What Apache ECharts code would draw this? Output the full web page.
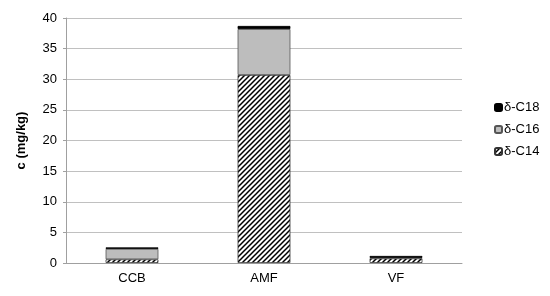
<!DOCTYPE html>
<html><head><meta charset="utf-8">
<script src="https://cdn.jsdelivr.net/npm/echarts@6/dist/echarts.min.js"></script>
<style>html,body{margin:0;padding:0;background:#fff}#c{width:550px;height:296px}</style>
</head><body><div id="c"></div>
<script>
const categories = ['CCB', 'AMF', 'VF'];
const c14 = [0.6, 30.7, 0.75];
const c16 = [1.7, 7.5, 0.1];
const c18 = [0.25, 0.5, 0.3];
const yTicks = [0, 5, 10, 15, 20, 25, 30, 35, 40];

function hatch() {
  const s = 5;
  const cv = document.createElement('canvas');
  cv.width = s; cv.height = s;
  const g = cv.getContext('2d');
  g.fillStyle = '#fff'; g.fillRect(0, 0, s, s);
  g.strokeStyle = '#000'; g.lineWidth = 1.5;
  g.beginPath();
  g.moveTo(-1, s + 1); g.lineTo(s + 1, -1);
  g.moveTo(-1, 1); g.lineTo(1, -1);
  g.moveTo(s - 1, s + 1); g.lineTo(s + 1, s - 1);
  g.stroke();
  return cv;
}
const hatchFill = { image: hatch(), repeat: 'repeat' };

const chart = echarts.init(document.getElementById('c'), null, { renderer: 'canvas' });
const font = 'Liberation Sans, Arial, sans-serif';
const base = { type: 'bar', stack: 's', barWidth: '40%', emphasis: { disabled: true } };
chart.setOption({
  animation: false,
  textStyle: { fontFamily: font },
  grid: { left: 66, right: 88, top: 18, bottom: 33 },
  legend: {
    orient: 'vertical', left: 489, top: 96, itemWidth: 7, itemHeight: 7, itemGap: 9,
    data: ['δ-C18', 'δ-C16', 'δ-C14'],
    textStyle: { fontSize: 13, color: '#000', fontFamily: font, padding: [0, 0, 0, -3] }
  },
  xAxis: {
    type: 'category', data: categories,
    axisLine: { lineStyle: { color: '#a0a0a0' } },
    axisTick: { show: false },
    axisLabel: { color: '#000', fontSize: 13, margin: 9 }
  },
  yAxis: {
    type: 'value', min: 0, max: 40, interval: 5,
    name: 'c (mg/kg)', nameLocation: 'middle', nameGap: 38,
    nameTextStyle: { fontWeight: 'bold', fontSize: 13, color: '#000' },
    axisLine: { show: true, lineStyle: { color: '#a0a0a0' } },
    axisTick: { show: true, length: 3, lineStyle: { color: '#a0a0a0' } },
    axisLabel: { color: '#000', fontSize: 13, margin: 9,
      formatter: v => yTicks.includes(v) ? String(v) : '' },
    splitLine: { lineStyle: { color: '#c0c0c0' } }
  },
  series: [
    Object.assign({}, base, { name: 'δ-C14', data: c14,
      itemStyle: { color: hatchFill, borderColor: '#333', borderWidth: 0.8 } }),
    Object.assign({}, base, { name: 'δ-C16', data: c16,
      itemStyle: { color: '#bdbdbd', borderColor: '#555', borderWidth: 0.8 } }),
    Object.assign({}, base, { name: 'δ-C18', data: c18,
      itemStyle: { color: '#000', borderColor: '#000', borderWidth: 0.8 } })
  ]
});
</script></body></html>
